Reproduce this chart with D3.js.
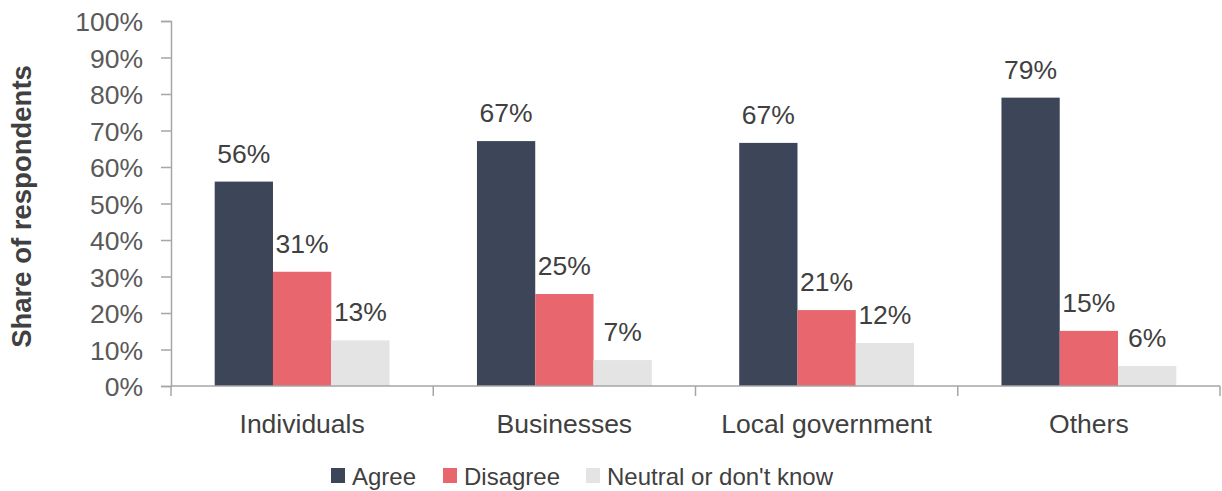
<!DOCTYPE html>
<html><head><meta charset="utf-8">
<script src="https://cdn.jsdelivr.net/npm/d3@7"></script>
<style>body{margin:0;background:#fff}svg{display:block}</style>
</head><body>
<svg id="c" width="1222" height="491"></svg>
<script>
const categories = ["Individuals", "Businesses", "Local government", "Others"];
const seriesNames = ["Agree", "Disagree", "Neutral or don't know"];
const agree = [56, 67.1, 66.6, 79];
const disagree = [31.3, 25.2, 20.8, 15.1];
const neutral = [12.5, 7.1, 11.8, 5.5];
const agreeLabels = ["56%", "67%", "67%", "79%"];
const disagreeLabels = ["31%", "25%", "21%", "15%"];
const neutralLabels = ["13%", "7%", "12%", "6%"];
const yTicks = [0,10,20,30,40,50,60,70,80,90,100];
const colors = ["#3d4659", "#e8666e", "#e4e4e4"];

const series = [agree, disagree, neutral];
const labels = [agreeLabels, disagreeLabels, neutralLabels];

const svg = d3.select("#c");
const mLeft = 171, mRight = 1220, mTop = 21, mBottom = 386;
const font = "'Liberation Sans', Arial, sans-serif";
const textColor = "#404040";
const axisColor = "#a6a6a6";

const y = d3.scaleLinear().domain([0,100]).range([mBottom, mTop]);
const x0 = d3.scaleBand().domain(categories).range([mLeft, mRight]).padding(0);
const bw = x0.bandwidth();
const x1 = d3.scaleBand().domain(d3.range(3)).range([bw/6, bw*5/6]).padding(0);

// y axis
const yAxis = svg.append("g").attr("transform", `translate(${mLeft},0)`)
  .call(d3.axisLeft(y).tickValues(yTicks).tickFormat(d => d + "%").tickSize(10).tickPadding(18));
yAxis.select(".domain").attr("stroke", axisColor).attr("stroke-width", 1.5);
yAxis.selectAll(".tick line").attr("stroke", axisColor).attr("stroke-width", 1.5);
yAxis.selectAll(".tick text").attr("font-family", font).attr("font-size", 26.5).attr("fill", "#595959").attr("dy", "0.36em");

// bars
categories.forEach((c, i) => {
  const g = svg.append("g").attr("transform", `translate(${x0(c)},0)`);
  series.forEach((s, k) => {
    g.append("rect").attr("x", x1(k)).attr("y", y(s[i])).attr("width", x1.bandwidth())
      .attr("height", y(0) - y(s[i])).attr("fill", colors[k]);
    g.append("text").attr("x", x1(k) + x1.bandwidth()/2).attr("y", y(s[i]) - 19)
      .attr("text-anchor", "middle").attr("font-family", font).attr("font-size", 26.5)
      .attr("fill", textColor).text(labels[k][i]);
  });
});

// x axis
const xAxis = svg.append("g").attr("transform", `translate(0,${mBottom})`);
xAxis.append("line").attr("x1", mLeft).attr("x2", mRight).attr("stroke", axisColor).attr("stroke-width", 1.5);
const bounds = categories.map(c => x0(c)).concat([mRight]);
xAxis.selectAll("line.t").data(bounds).join("line").attr("class","t")
  .attr("x1", d => d).attr("x2", d => d).attr("y1", 0).attr("y2", 10)
  .attr("stroke", axisColor).attr("stroke-width", 1.5);
xAxis.selectAll("text").data(categories).join("text")
  .attr("x", d => x0(d) + bw/2).attr("y", 47).attr("text-anchor", "middle")
  .attr("font-family", font).attr("font-size", 26.5).attr("fill", textColor).text(d => d);

// y title
svg.append("text").attr("transform", `translate(31,${(mTop+mBottom)/2+3}) rotate(-90)`)
  .attr("text-anchor", "middle").attr("font-family", font).attr("font-size", 27.5)
  .attr("font-weight", "bold").attr("fill", textColor).text("Share of respondents");

// legend
const legendX = [331, 443, 586];
seriesNames.forEach((n, k) => {
  svg.append("rect").attr("x", legendX[k]).attr("y", 468).attr("width", 14).attr("height", 15).attr("fill", colors[k]);
  svg.append("text").attr("x", legendX[k] + 21).attr("y", 485).attr("font-family", font)
    .attr("font-size", 24).attr("fill", textColor).text(n);
});
</script>
</body></html>
